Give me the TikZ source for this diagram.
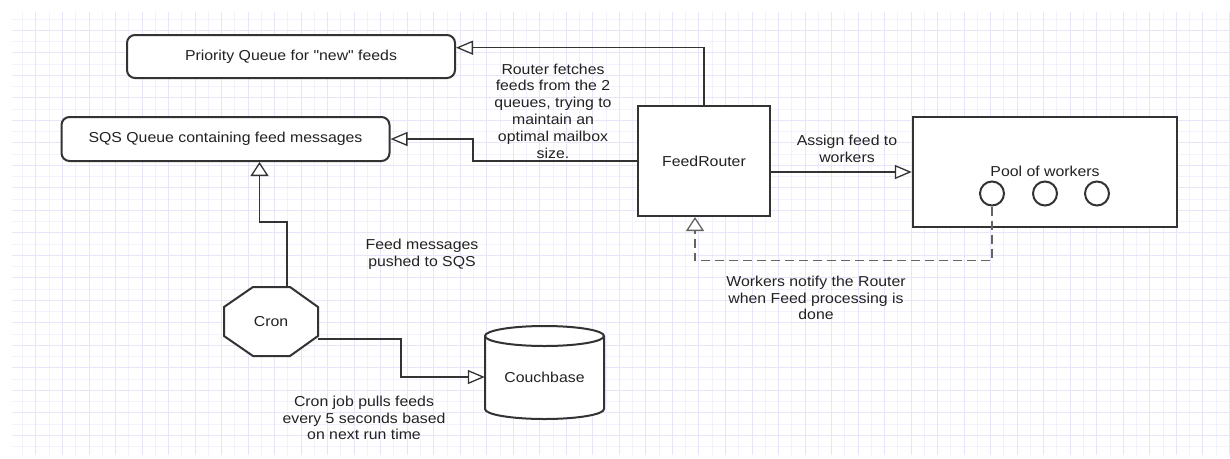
\documentclass[tikz,border=0pt]{standalone}
\usepackage{fontspec}
\setmainfont{Liberation Sans}[FakeStretch=1.1, Ligatures=TeXOff]
\usetikzlibrary{arrows.meta}
\definecolor{gminor}{RGB}{242,241,252}
\definecolor{gmajor}{RGB}{230,229,250}
\definecolor{ink}{RGB}{51,51,51}
\definecolor{dink}{RGB}{100,100,100}
\definecolor{txt}{RGB}{34,34,34}
\begin{document}
\begin{tikzpicture}[x=1pt,y=-1pt,
  every node/.style={font=\fontsize{14.4}{16.8}\selectfont, text=txt, align=center, inner sep=0pt},
  box/.style={draw=ink, line width=2pt, fill=white},
  rbox/.style={box, rounded corners=8pt},
  conn/.style={draw=ink, line width=1.5pt},
  harr/.style={conn, -{Triangle[length=17pt,width=14pt,fill=white,line width=1.3pt]}},
  varr/.style={conn, -{Triangle[length=14pt,width=18pt,fill=white,line width=1.3pt]}},
]
\fill[white] (0,0) rectangle (1230,458);
\useasboundingbox (0,0) rectangle (1230,458);
% grid
\foreach \k in {0,2,...,90} \draw[gminor,line width=1pt] ({22.7+13.26*\k},12) -- ({22.7+13.26*\k},455);
\foreach \k in {0,2,...,38} \draw[gminor,line width=1pt] (12,{19+11.25*\k}) -- (1230,{19+11.25*\k});
\foreach \k in {1,3,...,91} \draw[gmajor,line width=1pt] ({22.7+13.26*\k},12) -- ({22.7+13.26*\k},455);
\foreach \k in {1,3,...,37} \draw[gmajor,line width=1pt] (12,{19+11.25*\k}) -- (1230,{19+11.25*\k});

% boxes
\node[rbox, minimum width=328pt, minimum height=43pt] (pq) at (291,56.5) {Priority Queue for "new" feeds};
\node[rbox, minimum width=328pt, minimum height=44pt] (sqs) at (225.5,139) {SQS Queue containing feed messages};
\node[box, minimum width=132pt, minimum height=110pt] (fr) at (704,161) {FeedRouter};
\node[box, line width=2.5pt, minimum width=264pt, minimum height=110pt] (pool) at (1045,172) {};
\node (pooltxt) at (1045,171.5) {Pool of workers};
\node[circle, draw=ink, line width=2pt, minimum size=24pt] (w1) at (992,193.5) {};
\node[circle, draw=ink, line width=2pt, minimum size=24pt] (w2) at (1045,193.5) {};
\node[circle, draw=ink, line width=2pt, minimum size=24pt] (w3) at (1097,193.5) {};

% cron octagon
\draw[box] (253,287) -- (290,287) -- (318,307) -- (318,336) -- (290,356) -- (253,356) -- (224,336) -- (224,307) -- cycle;
\node[minimum width=94pt, minimum height=69pt] (cron) at (271,321.5) {Cron};

% couchbase cylinder
\draw[box] (485,336) -- (485,409) arc[start angle=180,end angle=360,x radius=59.5pt,y radius=10pt]
  -- (604,336) arc[start angle=0,end angle=180,x radius=59.5pt,y radius=10pt] -- cycle;
\draw[draw=ink, line width=2pt] (485,336) arc[start angle=180,end angle=360,x radius=59.5pt,y radius=10pt];
\node[minimum width=119pt, minimum height=93pt] (cb) at (544.5,372.5) {};
\node (cbtxt) at (544.5,377) {Couchbase};

% connectors
\draw[harr] (fr.north) |- ([yshift=8.8pt]pq.east);
\draw[harr] (fr.west) -- ++(-164,0) |- (sqs.east);
\draw[harr] (fr.east |- pool.west) -- (pool.west);
\draw[varr, draw=dink, dash pattern=on 9pt off 5pt] (w1.south) -- ++(0,54) -| ([xshift=-9pt]fr.south);
\draw[varr] ([xshift=16pt]cron.north) -- ++(0,-65) -| ([xshift=34pt]sqs.south);
\draw[harr] ([yshift=-17.5pt]cron.east) -- ++(83,0) |- ([yshift=-4.5pt]cb.west);

% labels
\node (l1) at (553,111) {Router fetches\\feeds from the 2\\queues, trying to\\maintain an\\optimal mailbox\\size.};
\node (l2) at (847,149) {Assign feed to\\workers};
\node (l3) at (422,254) {Feed messages\\pushed to SQS};
\node (l4) at (364,418) {Cron job pulls feeds\\every 5 seconds based\\on next run time};
\node (l5) at (816,298) {Workers notify the Router\\when Feed processing is\\done};
\end{tikzpicture}
\end{document}
